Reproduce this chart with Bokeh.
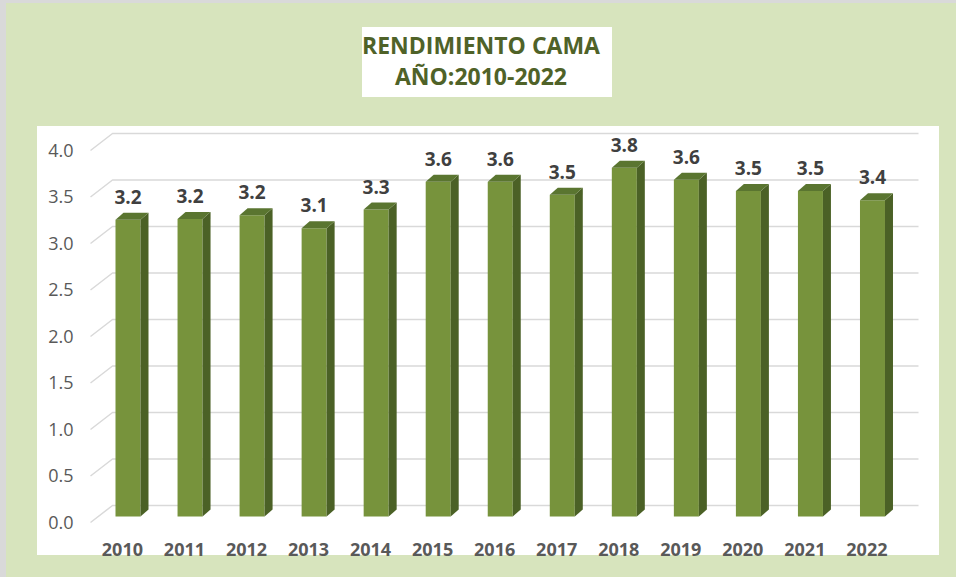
from bokeh.plotting import figure
from bokeh.models import Range1d, FixedTicker, Div, NumeralTickFormatter
from bokeh.layouts import column
from bokeh.embed import file_html
from bokeh.resources import INLINE
from bokeh.core.properties import value

# ---------------- data ----------------
years = ["2010", "2011", "2012", "2013", "2014", "2015", "2016",
         "2017", "2018", "2019", "2020", "2021", "2022"]
rendimiento = [3.19, 3.20, 3.24, 3.10, 3.30, 3.60, 3.60,
               3.46, 3.75, 3.62, 3.50, 3.50, 3.40]
y_ticks = [0.0, 0.5, 1.0, 1.5, 2.0, 2.5, 3.0, 3.5, 4.0]
title_lines = ["RENDIMIENTO CAMA", "AÑO:2010-2022"]

# ---------------- style / geometry ----------------
BG_GREEN = "#D7E4BD"
FRONT = "#77933C"
TOP = "#5A7530"
SIDE = "#4B6126"
GRID = "#D9D9D9"
FONT = "Open Sans"

PX_X = 62.04   # pixels per category step
PX_Y = 93.0    # pixels per value unit

half_w = 12.5 / PX_X          # half bar width
depth_dx = 8 / PX_X           # 3-D depth shift of bars
depth_dy = 7 / PX_Y
bar_base = 6 / PX_Y           # bars sit slightly behind the front plane
grid_front_x = -37.5 / PX_X   # front end of the floor/wall grid lines
grid_back_x = -15.5 / PX_X
grid_end_x = 790.5 / PX_X
grid_dy = 17 / PX_Y
label_gap = 23 / PX_Y
x_label_shift = -0.09

n = len(years)
xs = list(range(n))

p = figure(width=902, height=451,
           x_range=Range1d(-0.7495, 12.919),
           y_range=Range1d(-0.0753, 4.2043),
           output_backend="svg", toolbar_location=None,
           min_border_left=44, min_border_right=10,
           min_border_top=5, min_border_bottom=48,
           background_fill_color=None, border_fill_color=None,
           outline_line_color=None, margin=(0, 17, 0, 37))

p.xgrid.visible = False
p.ygrid.visible = False

# 3-D style grid lines (slanted front part + back wall line)
gx = [[grid_front_x, grid_back_x, grid_end_x] for _ in y_ticks]
gy = [[t, t + grid_dy, t + grid_dy] for t in y_ticks]
p.multi_line(xs=gx, ys=gy, line_color=GRID, line_width=1.5)

# bars: front face, side face, top face
tops = [bar_base + v for v in rendimiento]
p.quad(left=[x - half_w for x in xs], right=[x + half_w for x in xs],
       bottom=bar_base, top=tops, fill_color=FRONT, line_color=None)

side_xs = [[x + half_w, x + half_w + depth_dx, x + half_w + depth_dx, x + half_w] for x in xs]
side_ys = [[bar_base, bar_base + depth_dy, t + depth_dy, t] for t in tops]
p.patches(xs=side_xs, ys=side_ys, fill_color=SIDE, line_color=None)

top_xs = [[x - half_w, x + half_w, x + half_w + depth_dx, x - half_w + depth_dx] for x in xs]
top_ys = [[t, t, t + depth_dy, t + depth_dy] for t in tops]
p.patches(xs=top_xs, ys=top_ys, fill_color=TOP, line_color=None)

# data labels
p.text(x=xs, y=[t + label_gap for t in tops],
       text=[f"{v:.1f}" for v in rendimiento],
       text_align="center", text_baseline="alphabetic",
       text_font=value(FONT), text_font_style="bold",
       text_font_size="19px", text_color="#404040")

# axes
yax = p.yaxis[0]
yax.ticker = FixedTicker(ticks=y_ticks)
yax.formatter = NumeralTickFormatter(format="0.0")
yax.axis_line_color = None
yax.major_tick_line_color = None
yax.minor_tick_line_color = None
yax.major_tick_out = 0
yax.major_tick_in = 0
yax.major_label_standoff = 8
yax.major_label_text_font = FONT
yax.major_label_text_font_size = "18px"
yax.major_label_text_color = "#595959"

x_ticks = [round(x + x_label_shift, 2) for x in xs]
xax = p.xaxis[0]
xax.ticker = FixedTicker(ticks=x_ticks)
xax.major_label_overrides = {t: y for t, y in zip(x_ticks, years)}
xax.axis_line_color = None
xax.major_tick_line_color = None
xax.minor_tick_line_color = None
xax.major_tick_out = 0
xax.major_tick_in = 0
xax.major_label_standoff = 13
xax.major_label_text_font = FONT
xax.major_label_text_font_style = "bold"
xax.major_label_text_font_size = "18px"
xax.major_label_text_color = "#595959"

title_html = ('<div style="padding-top:3px; line-height:31px; text-align:center; '
              "font-family:'Open Sans'; font-weight:bold; font-size:23px; color:#4F6228;\">"
              + "<br>".join(title_lines) + "</div>")
title_div = Div(text=title_html, width=250, height=70, margin=(27, 0, 29, 362),
                styles={"background-color": "white"})

layout = column(title_div, p, width=956, height=577, spacing=0,
                styles={"background": "linear-gradient(#FFFFFF, #FFFFFF) 37px 126px / 902px 429px no-repeat, "
                                      + BG_GREEN,
                        "box-shadow": "inset 6px 3px 0 0 #D9D9D9"})

open("out.html", "w").write(file_html(layout, INLINE))
